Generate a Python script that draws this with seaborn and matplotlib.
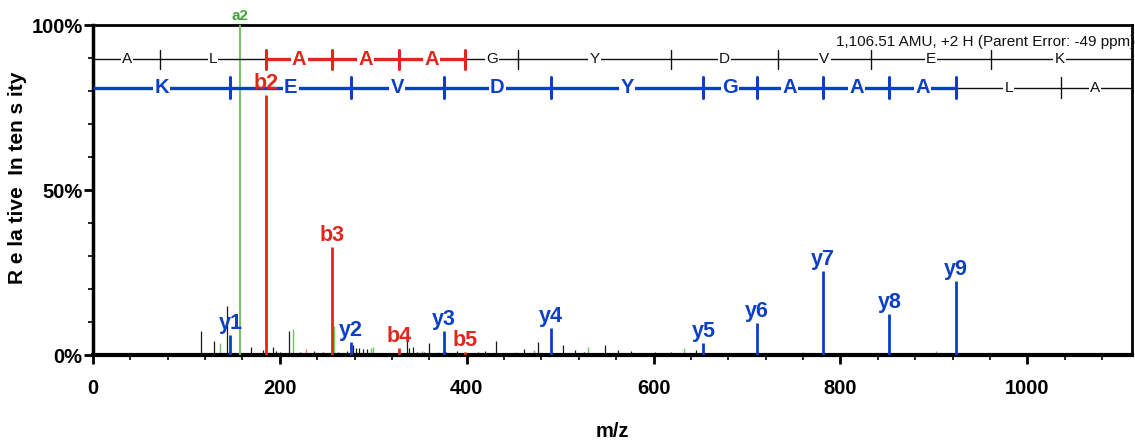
import numpy as np
import pandas as pd
import seaborn as sns
import matplotlib
matplotlib.use("Agg")
import matplotlib.pyplot as plt
from matplotlib import font_manager as fm
from matplotlib.ticker import MultipleLocator, FuncFormatter

# ---------------- data ----------------
sequence_b = ["A", "L", "A", "A", "A", "G", "Y", "D", "V", "E", "K"]
b_ladder_mz = [72.04, 185.13, 256.17, 327.20, 398.24, 455.26, 618.32, 733.35, 832.42, 961.46]
b_seg_hit = [False, False, True, True, True, False, False, False, False, False, False]

sequence_y = ["K", "E", "V", "D", "Y", "G", "A", "A", "A", "L", "A"]
y_ladder_mz = [147.11, 276.16, 375.22, 490.25, 653.31, 710.34, 781.37, 852.41, 923.45, 1036.53]
y_seg_hit = [True, True, True, True, True, True, True, True, True, False, False]
precursor_mz = 1107.57

a_labels = ["a2"]
a_mz = [157.13]
a_int = [100.0]

b_labels = ["b2", "b3", "b4", "b5"]
b_mz = [185.13, 256.17, 327.20, 398.24]
b_int = [78.8, 32.8, 2.0, 1.0]

y_labels = ["y1", "y2", "y3", "y4", "y5", "y6", "y7", "y8", "y9"]
y_mz = [147.11, 276.16, 375.22, 490.25, 653.31, 710.34, 781.37, 852.41, 923.45]
y_int = [6.0, 3.8, 7.4, 8.1, 3.6, 9.6, 25.5, 12.4, 22.5]

noise_black_mz = [115.1, 121.0, 129.4, 143.0, 146.0, 168.9, 182.0, 193.0, 196.0, 200.0,
                  210.0, 222.0, 237.0, 246.0, 262.0, 272.0, 278.5, 282.0, 285.0, 289.0,
                  293.0, 335.6, 338.0, 343.0, 347.0, 360.0, 378.0, 390.0, 412.0, 420.0,
                  431.8, 461.0, 476.3, 503.0, 516.0, 526.0, 548.0, 561.6, 576.0, 601.0,
                  619.0, 645.8, 712.0]
noise_black_int = [7.4, 0.7, 4.3, 15.0, 1.0, 2.5, 1.5, 2.5, 1.2, 1.0,
                   7.4, 0.8, 1.2, 0.8, 0.8, 1.2, 3.0, 2.2, 2.0, 1.8,
                   1.8, 8.3, 2.0, 2.5, 1.0, 3.5, 1.0, 1.2, 1.0, 1.3,
                   4.3, 1.8, 3.8, 3.0, 1.5, 1.0, 3.0, 1.5, 1.3, 1.0,
                   1.0, 1.6, 1.0]
noise_green_mz = [135.7, 214.3, 258.0, 297.0, 300.0, 351.7, 369.5, 453.0, 472.0, 530.0, 632.0, 760.0, 902.6]
noise_green_int = [3.5, 7.9, 8.8, 2.0, 2.5, 1.2, 1.0, 1.0, 1.5, 2.3, 2.0, 1.0, 1.3]
noise_red_mz = [228.4]
noise_red_int = [1.9]
noise_blue_mz = [354.5]
noise_blue_int = [1.0]

x_max = 1112
annotation = "1,106.51 AMU, +2 H (Parent Error: -49 ppm)"

# ---------------- style ----------------
sns.set_theme(style="white")
names = {f.name for f in fm.fontManager.ttflist}
narrow = "Liberation Sans Narrow" if "Liberation Sans Narrow" in names else "Liberation Sans"
plt.rcParams["font.family"] = [narrow, "DejaVu Sans"]
plt.rcParams["text.color"] = "black"
plt.rcParams["axes.labelcolor"] = "black"
plt.rcParams["xtick.color"] = "black"
plt.rcParams["ytick.color"] = "black"

RED = "#e3261b"
BLUE = "#0b3fc6"
GREEN = "#3fa535"
LGREEN = "#72c462"
SALMON = "#f08070"

fig = plt.figure(figsize=(11.35, 4.44), dpi=100)
ax = fig.add_axes([93 / 1135, 1 - 355 / 444, (1132 - 93) / 1135, (355 - 25) / 444])

# noise peaks
ax.vlines(noise_black_mz, 0, noise_black_int, color="#1a1a1a", lw=0.9, zorder=2)
ax.vlines(noise_green_mz, 0, noise_green_int, color=LGREEN, lw=1.0, zorder=2)
ax.vlines(noise_red_mz, 0, noise_red_int, color=SALMON, lw=1.0, zorder=2)
ax.vlines(noise_blue_mz, 0, noise_blue_int, color=BLUE, lw=1.0, zorder=2)

# annotated peaks
ax.vlines(a_mz, 0, a_int, color=LGREEN, lw=1.4, zorder=3)
ax.vlines(b_mz, 0, b_int, color=RED, lw=2.0, zorder=3)
ax.vlines(y_mz, 0, y_int, color=BLUE, lw=2.0, zorder=3)

lab_font = dict(fontsize=15.5, fontweight="bold", ha="center", va="bottom", zorder=6)
for lab, mz, it in zip(b_labels, b_mz, b_int):
    ax.text(mz, it + 0.3, lab, color=RED, **lab_font)
for lab, mz, it in zip(y_labels, y_mz, y_int):
    ax.text(mz, it + 0.3, lab, color=BLUE, **lab_font)
for lab, mz, it in zip(a_labels, a_mz, a_int):
    ax.text(mz, it + 0.5, lab, color=GREEN, fontsize=11, fontweight="bold",
            ha="center", va="bottom", clip_on=False, zorder=6)


def ladder(y, cuts, seq, hits, color, tick_h):
    edges = [0.0] + list(cuts) + [precursor_mz]
    for i, hit in enumerate(hits):
        x0, x1 = edges[i], edges[i + 1]
        if i == len(hits) - 1:
            x1 = x_max
        ax.plot([x0, x1], [y, y], color=color if hit else "#111111",
                lw=2.4 if hit else 1.0, solid_capstyle="butt", zorder=4)
    for j, c in enumerate(cuts):
        on = hits[j] or hits[j + 1]
        ax.plot([c, c], [y - tick_h, y + tick_h], color=color if on else "#111111",
                lw=2.2 if on else 1.0, zorder=4)
    for i, (aa, hit) in enumerate(zip(seq, hits)):
        xm = (edges[i] + edges[i + 1]) / 2
        if hit:
            ax.text(xm, y, aa, color=color, fontsize=14.5, fontweight="bold",
                    ha="center", va="center", zorder=5,
                    bbox=dict(facecolor="white", edgecolor="none", pad=0.8))
        else:
            ax.text(xm, y, aa, color="#111111", fontsize=11,
                    ha="center", va="center", zorder=5,
                    bbox=dict(facecolor="white", edgecolor="none", pad=0.8))


ladder(89.6, b_ladder_mz, sequence_b, b_seg_hit, RED, 2.8)
ladder(81.0, y_ladder_mz, sequence_y, y_seg_hit, BLUE, 3.2)

ax.text(1.003, 0.95, annotation, transform=ax.transAxes, ha="right", va="center",
        fontsize=11, color="#111111", clip_on=False, zorder=7)

# axes
ax.set_xlim(0, x_max)
ax.set_ylim(0, 100)
ax.xaxis.set_major_locator(MultipleLocator(200))
ax.xaxis.set_minor_locator(MultipleLocator(40))
ax.yaxis.set_major_locator(MultipleLocator(50))
ax.yaxis.set_minor_locator(MultipleLocator(10))
ax.yaxis.set_major_formatter(FuncFormatter(lambda v, p: f"{int(v)}%"))
ax.tick_params(axis="both", which="major", direction="out", length=6.5, width=2,
               color="black", labelcolor="black", labelsize=14.5)
ax.tick_params(axis="x", which="major", pad=11)
ax.tick_params(axis="y", which="major", pad=1)
ax.tick_params(axis="both", which="minor", direction="out", length=3.5, width=1.2,
               color="black")
ax.tick_params(axis="x", which="both", bottom=True)
ax.tick_params(axis="y", which="both", left=True)
for lab in ax.get_xticklabels() + ax.get_yticklabels():
    lab.set_fontweight("bold")
for side, w in {"left": 2.5, "bottom": 3.0, "top": 2.0, "right": 2.0}.items():
    ax.spines[side].set_visible(True)
    ax.spines[side].set_color("black")
    ax.spines[side].set_linewidth(w)
ax.grid(False)

ax.set_xlabel("m/z", fontsize=14.5, fontweight="bold", labelpad=17, color="black")
fig.text(18 / 1135, 1 - 178 / 444, "R e la tive  In ten s ity", rotation=90,
         ha="center", va="center", fontsize=15, fontweight="bold", color="black")

fig.savefig("out.png", dpi=100, facecolor="white")
